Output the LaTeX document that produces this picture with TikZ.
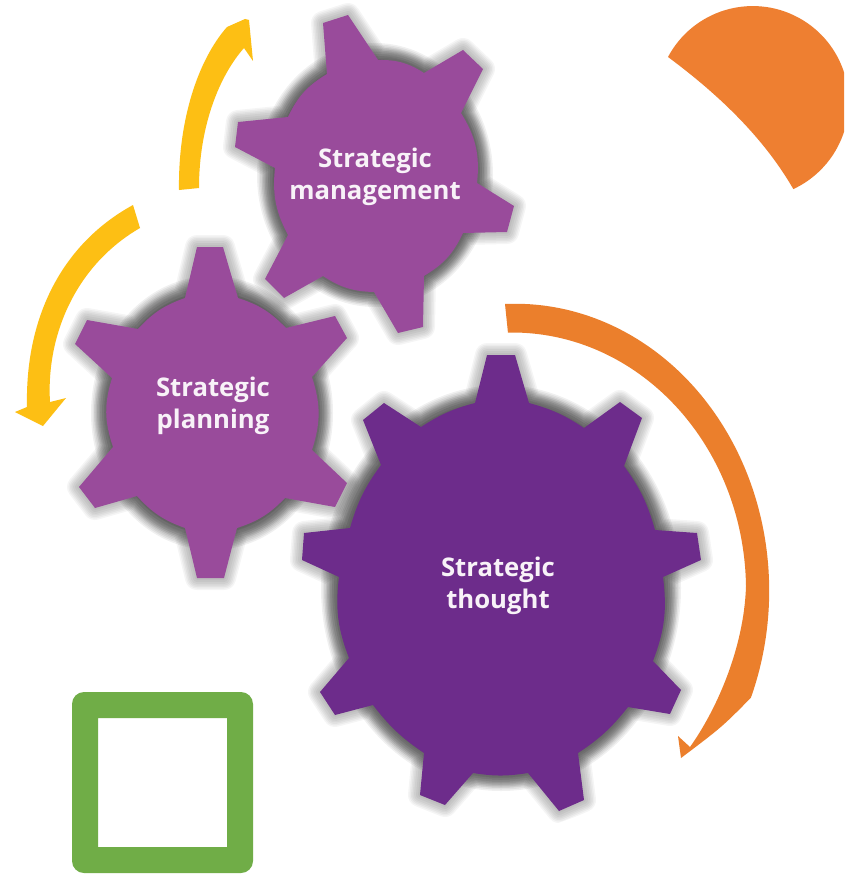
\documentclass[tikz,border=0pt]{standalone}
\usepackage{fontspec}
\setmainfont{Open Sans}
\definecolor{gearlight}{HTML}{994B9B}
\definecolor{geardark}{HTML}{6D2C8B}
\definecolor{arroworange}{HTML}{EB7F2C}
\definecolor{pieorange}{HTML}{EE7F31}
\definecolor{arrowyellow}{HTML}{FDBF14}
\definecolor{boxgreen}{HTML}{70AD47}
\definecolor{labelwhite}{HTML}{F8F2F8}
\newcommand{\gearOne}{(323,23) -- (348,15) -- (378,60) to[bend left=17] (424,73) -- (463,50) -- (483,69) -- (461,113) to[bend left=19] (477,183) -- (514,206) -- (507,232) -- (463,233) to[bend left=17] (424,276) -- (423,327) -- (398,333) -- (374,292) to[bend left=16] (323,276) -- (284,298) -- (265,279) -- (288,235) to[bend left=17] (275,168) -- (235,147) -- (238,122) -- (288,117) to[bend left=17] (327,74) -- cycle}
\newcommand{\gearTwo}{(197,247) -- (223,247) -- (238,298) to[bend left=14] (286,328) -- (335,316) -- (347,338) -- (312,377) to[bend left=18] (312,450) -- (347,483) -- (335,507) -- (285,498) to[bend left=14] (237,528) -- (224,578) -- (197,578) -- (185,528) to[bend left=14] (137,496) -- (95,508) -- (79,487) -- (113,447) to[bend left=18] (112,378) -- (75,344) -- (87,320) -- (138,329) to[bend left=14] (185,298) -- cycle}
\newcommand{\gearThree}{(487,355) -- (515,355) -- (529,403) to[bend left=9] (584,428) -- (620,402) -- (642,418) -- (624,466) to[bend left=10] (655,530) -- (697,533) -- (701,560) -- (663,577) to[bend left=14] (653,661) -- (681,690) -- (670,714) -- (628,707) to[bend left=9] (578,753) -- (584,800) -- (559,811) -- (528,773) to[bend left=9] (473,773) -- (445,805) -- (420,795) -- (424,753) to[bend left=9] (373,705) -- (335,715) -- (320,692) -- (349,658) to[bend left=14] (339,577) -- (302,560) -- (304,533) -- (350,528) to[bend left=10] (381,465) -- (363,420) -- (384,403) -- (421,427) to[bend left=9] (475,403) -- cycle}
\newcommand{\softshadow}[2]{%
  \foreach \w in {4,8,12,15,18,21,24}{\draw[black,draw opacity=.04,line width=\w pt,line join=round] #1;}%
  \foreach \w in {6,12,16,20,23,26,29,32,35,38}{\draw[black,draw opacity=.06,line width=\w pt] #2;}%
}
\tikzset{gearlabel/.style={text=labelwhite,font=\fontsize{25.7}{32}\selectfont\bfseries,align=center,inner sep=0pt}}
\begin{document}
\begin{tikzpicture}[x=1pt,y=-1pt]
\useasboundingbox (0,0) rectangle (844,875);
\clip (0,0) rectangle (844,875);
\fill[white] (0,0) rectangle (844,875);
% shadows
\softshadow{\gearOne}{(375,175) ellipse [x radius=99,y radius=113]}
\softshadow{\gearTwo}{(212,413) ellipse [x radius=102,y radius=118]}
\softshadow{\gearThree}{(501,588) ellipse [x radius=161,y radius=184]}
% white arc cutting the shadow of the large gear
\fill[white] (500,850) -- plot[smooth] coordinates {(520,834) (547,827) (600,807) (640,785) (681,758)} -- (700,860) -- cycle;
% gears
\fill[gearlight] \gearOne;
\fill[gearlight] \gearTwo;
\fill[geardark] \gearThree;
% yellow arrows
\fill[arrowyellow] (179,190) .. controls (178,120) and (198,60) .. (227,27) -- (245,19) -- (249,20) -- (253,61) -- (244,48) .. controls (220,75) and (199,125) .. (199,188) -- cycle;
\fill[arrowyellow] (133,205) .. controls (60,245) and (25,320) .. (27,407) -- (15,412) -- (43,426) -- (66,398) -- (50,402) .. controls (46,335) and (76,265) .. (140,228) -- cycle;
% orange arrow
\fill[arroworange] (505,304) arc[start angle=267.7,end angle=381.9,x radius=254,y radius=287] .. controls (722,727) .. (681,758) -- (678,736) -- (690,747) .. controls (715,712) and (744,650) .. (746,586) arc[start angle=359,end angle=269,x radius=234,y radius=258] -- cycle;
% orange segment
\fill[pieorange] (668,57) arc[start angle=208,end angle=425,radius=96] .. controls (765,140) and (722,97) .. (668,57) -- cycle;
% green frame
\fill[boxgreen,even odd rule,rounded corners=12pt] (72,692) rectangle (253,873) [sharp corners] (98,718) rectangle (227,847);
% labels
\node[gearlabel] (management) at (375,177) {Strategic\\management};
\node[gearlabel] (planning) at (213,405.5) {Strategic\\planning};
\node[gearlabel] (thought) at (498,586) {Strategic\\thought};
\end{tikzpicture}
\end{document}
